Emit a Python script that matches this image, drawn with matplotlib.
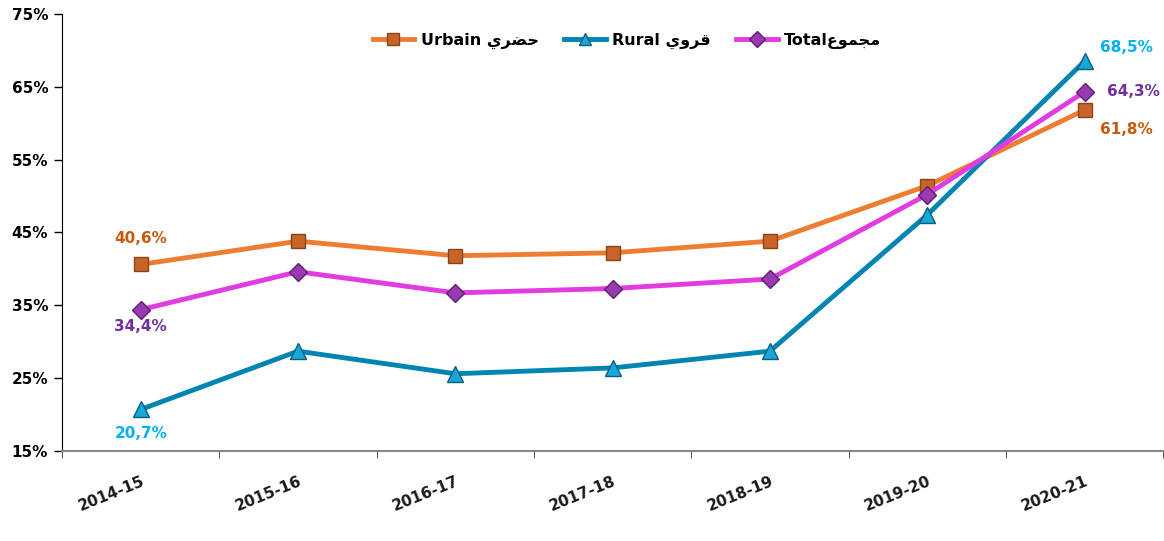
import numpy as np
import matplotlib
matplotlib.use("Agg")
from matplotlib import pyplot as plt

years = ["2014-15", "2015-16", "2016-17", "2017-18", "2018-19", "2019-20", "2020-21"]
urbain = [40.6, 43.8, 41.8, 42.2, 43.8, 51.4, 61.8]
rural = [20.7, 28.7, 25.6, 26.4, 28.7, 47.4, 68.5]
total = [34.4, 39.6, 36.7, 37.3, 38.6, 50.2, 64.3]

# arabic pre-shaped (presentation forms, visual order)
ar_urbain = "\uFEF1\uFEAE\uFEC0\uFEA3"   # حضري
ar_rural = "\uFEF1\uFEED\uFEAE\uFED7"    # قروي
ar_total = "\uFEC9\uFEEE\uFEE4\uFEA0\uFEE3"  # مجموع

plt.rcParams['font.family'] = ['DejaVu Sans']

fig = plt.figure(figsize=(11.64, 5.41), dpi=100)
ax = fig.add_axes([0.0533, 0.1664, 0.946, 0.808])

x = np.arange(len(years))
ax.plot(x, urbain, color='#ED7D31', lw=3.5, marker='s', markersize=10,
        markerfacecolor='#C8642A', markeredgecolor='#8A4418', markeredgewidth=1,
        label="Urbain " + ar_urbain, zorder=3)
ax.plot(x, rural, color='#0085B2', lw=3.5, marker='^', markersize=11,
        markerfacecolor='#1AA6D6', markeredgecolor='#0A5F80', markeredgewidth=1,
        label="Rural " + ar_rural, zorder=3)
ax.plot(x, total, color='#E03CE0', lw=3.5, marker='D', markersize=9,
        markerfacecolor='#9A3AB0', markeredgecolor='#5E1F70', markeredgewidth=1,
        label="Total" + ar_total, zorder=4)

def lab(v):
    return ("%.1f%%" % v).replace(".", ",")

kw = dict(fontsize=11, fontweight='bold', ha='center', va='center')
ax.annotate(lab(urbain[0]), (x[0], urbain[0]), xytext=(0, 19), textcoords='offset points', color='#C55A11', **kw)
ax.annotate(lab(total[0]), (x[0], total[0]), xytext=(0, -12), textcoords='offset points', color='#7030A0', **kw)
ax.annotate(lab(rural[0]), (x[0], rural[0]), xytext=(0, -17), textcoords='offset points', color='#00B0F0', **kw)
ax.annotate(lab(rural[-1]), (x[-1], rural[-1]), xytext=(30, 10), textcoords='offset points', color='#00B0F0', **kw)
ax.annotate(lab(total[-1]), (x[-1], total[-1]), xytext=(35, 0), textcoords='offset points', color='#7030A0', **kw)
ax.annotate(lab(urbain[-1]), (x[-1], urbain[-1]), xytext=(30, -14), textcoords='offset points', color='#C55A11', **kw)

ax.set_xlim(-0.5, len(years) - 0.5)
ax.set_ylim(15, 75)
ax.set_yticks(np.arange(15, 76, 10))
ax.set_yticklabels(["%d%%" % v for v in np.arange(15, 76, 10)], fontsize=11, fontweight='bold')
ax.tick_params(axis='y', direction='out', length=6, width=1, colors='black', pad=4)

ax.set_xticks(x)
ax.set_xticklabels(years, rotation=22, ha='right', rotation_mode='anchor',
                   fontsize=11, fontweight='bold', color='#1a1a1a')
ax.tick_params(axis='x', which='major', length=0, pad=16)
ax.set_xticks(np.arange(-0.5, len(years), 1), minor=True)
ax.tick_params(axis='x', which='minor', direction='out', length=5, color='#333333')

for s in ['top', 'right']:
    ax.spines[s].set_visible(False)
ax.spines['left'].set_color('black')
ax.spines['bottom'].set_color('#888888')
ax.spines['bottom'].set_linewidth(1.5)

leg = ax.legend(loc='upper center', bbox_to_anchor=(0.513, 0.99), ncol=3, frameon=False,
                prop={'weight': 'bold', 'size': 11.5}, handlelength=2.6, handletextpad=0.4,
                columnspacing=1.6, markerscale=0.85)

fig.savefig("out.png", dpi=100)
